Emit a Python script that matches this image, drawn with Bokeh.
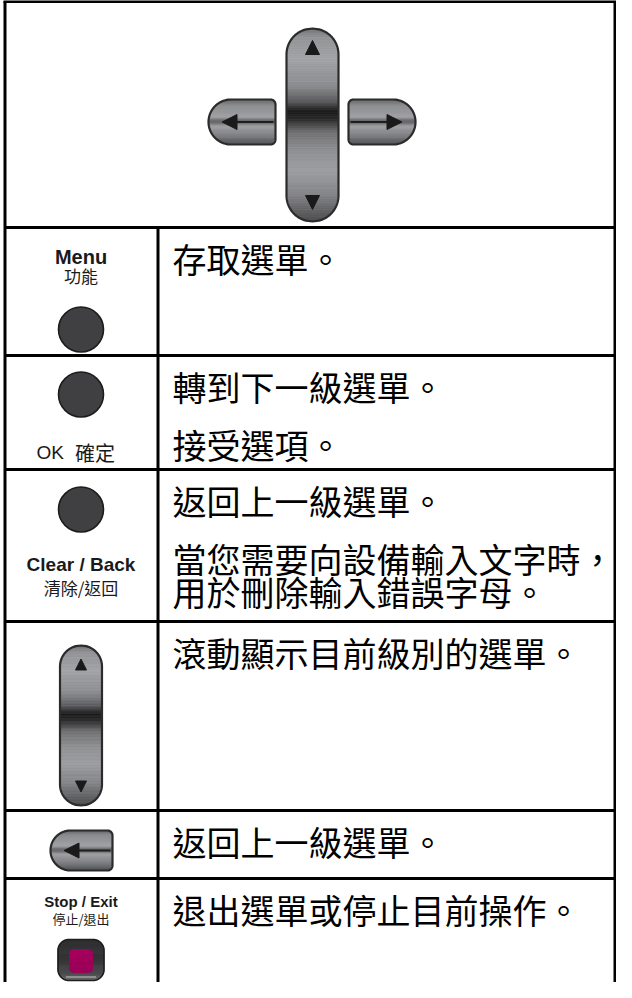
import numpy as np
from bokeh.plotting import figure
from bokeh.models import Range1d
from bokeh.core.properties import value
from bokeh.embed import file_html
from bokeh.resources import INLINE

# ---------------- data ----------------
key_names_en = ["Menu", "OK", "Clear / Back", "", "", "Stop / Exit"]
key_names_zh = ["功能", "確定", "清除/返回", "", "", "停止/退出"]
key_kinds = ["circle", "circle", "circle", "updown", "back", "stop"]
descriptions = [
    [["存取選單。"]],
    [["轉到下一級選單。"], ["接受選項。"]],
    [["返回上一級選單。"], ["當您需要向設備輸入文字時，", "用於刪除輸入錯誤字母。"]],
    [["滾動顯示目前級別的選單。"]],
    [["返回上一級選單。"]],
    [["退出選單或停止目前操作。"]],
]

# ---------------- layout / style ----------------
CJK = value("Noto Sans CJK TC")
LAT = value("Liberation Sans")
X_L, X_DIV, X_R = 12.5, 165.5, 622.5
Y_TOP, Y_BOT = 9.0, 1000
row_tops = [235, 363, 477, 629, 818, 886]
KEY_CX = 88.5
TXT_X = 180

p = figure(width=616, height=982, x_range=Range1d(8, 624), y_range=Range1d(990, 8),
           output_backend="svg", toolbar_location=None, min_border=0,
           x_axis_location=None, y_axis_location=None)
p.grid.visible = False
p.outline_line_color = None
p.background_fill_color = "white"
p.border_fill_color = "white"


def hex2rgb(h):
    h = h.lstrip("#")
    return np.array([int(h[i:i + 2], 16) for i in (0, 2, 4)], dtype=float)


def color_at(stops, t):
    t = min(max(t, 0.0), 1.0)
    for (t0, c0), (t1, c1) in zip(stops[:-1], stops[1:]):
        if t0 <= t <= t1:
            f = 0 if t1 == t0 else (t - t0) / (t1 - t0)
            c = hex2rgb(c0) * (1 - f) + hex2rgb(c1) * f
            return "#%02x%02x%02x" % tuple(int(round(v)) for v in c)
    return stops[-1][1]


def draw_gradient_shape(top, bot, extent, stops, n=100, outline="#2b2b2b", lw=2.2):
    ys = np.linspace(top, bot, n + 1)
    xs_list, ys_list, cols = [], [], []
    for y0, y1 in zip(ys[:-1], ys[1:]):
        l0, r0 = extent(y0)
        l1, r1 = extent(y1)
        xs_list.append([l0, r0, r1, l1])
        ys_list.append([y0, y0, y1, y1])
        cols.append(color_at(stops, ((y0 + y1) / 2 - top) / (bot - top)))
    p.patches(xs_list, ys_list, fill_color=cols, line_color=cols, line_width=0.8)
    if outline is not None:
        yy = np.linspace(top, bot, 241)
        ext = [extent(y) for y in yy]
        ox = [e[0] for e in ext] + [e[1] for e in ext][::-1]
        oy = list(yy) + list(yy[::-1])
        p.patch(ox, oy, fill_color=None, line_color=outline, line_width=lw, line_join="round")


def stadium(cx, w, top, bot):
    r = w / 2.0

    def ext(y):
        if y < top + r:
            d = np.sqrt(max(r * r - (top + r - y) ** 2, 0))
        elif y > bot - r:
            d = np.sqrt(max(r * r - (y - (bot - r)) ** 2, 0))
        else:
            d = r
        return cx - d, cx + d
    return ext


def dshape(left, right, top, bot, round_side="left", rc=5.0):
    R = (bot - top) / 2.0
    cy = (top + bot) / 2.0

    def ext(y):
        big = np.sqrt(max(R * R - (y - cy) ** 2, 0))
        if y < top + rc:
            small = np.sqrt(max(rc * rc - (top + rc - y) ** 2, 0))
        elif y > bot - rc:
            small = np.sqrt(max(rc * rc - (y - (bot - rc)) ** 2, 0))
        else:
            small = rc
        if round_side == "left":
            return left + R - big, right - rc + small
        return left + rc - small, right - R + big
    return ext


def rrect(left, right, top, bot, rc):
    def ext(y):
        if y < top + rc:
            d = rc - np.sqrt(max(rc * rc - (top + rc - y) ** 2, 0))
        elif y > bot - rc:
            d = rc - np.sqrt(max(rc * rc - (y - (bot - rc)) ** 2, 0))
        else:
            d = 0
        return left + d, right - d
    return ext


PILL_STOPS = [(0.0, "#6f7073"), (0.05, "#939497"), (0.16, "#a2a3a6"), (0.30, "#8b8c8f"),
              (0.38, "#5b5b5d"), (0.43, "#1b1b1c"), (0.47, "#2a2a2b"), (0.54, "#717173"),
              (0.64, "#909194"), (0.74, "#9c9da0"), (0.86, "#848588"), (1.0, "#4c4c4e")]
SIDE_STOPS = [(0.0, "#5f6062"), (0.12, "#88898c"), (0.40, "#a0a1a4"), (0.47, "#6a6a6c"),
              (0.53, "#6a6a6c"), (0.60, "#9fa0a3"), (0.82, "#7c7d80"), (1.0, "#505153")]


def triangle(cx, cy, w, h, direction):
    if direction == "up":
        return [cx - w / 2, cx + w / 2, cx], [cy + h / 2, cy + h / 2, cy - h / 2]
    if direction == "down":
        return [cx - w / 2, cx + w / 2, cx], [cy - h / 2, cy - h / 2, cy + h / 2]
    if direction == "left":
        return [cx + w / 2, cx + w / 2, cx - w / 2], [cy - h / 2, cy + h / 2, cy]
    return [cx - w / 2, cx - w / 2, cx + w / 2], [cy - h / 2, cy + h / 2, cy]


def side_button(left, right, top, bot, direction):
    cy = (top + bot) / 2.0
    draw_gradient_shape(top, bot, dshape(left, right, top, bot,
                                         "left" if direction == "left" else "right"),
                        SIDE_STOPS, n=40)
    if direction == "left":
        tx, ty = triangle(left + 21, cy, 15, 15, "left")
        p.segment(left + 28, cy, right - 2, cy, line_color="#1e1e1e", line_width=2.2)
    else:
        tx, ty = triangle(right - 21, cy, 15, 15, "right")
        p.segment(left + 2, cy, right - 28, cy, line_color="#1e1e1e", line_width=2.2)
    p.patch(tx, ty, fill_color="#1a1a1a", line_color="#1a1a1a", line_width=1)


def updown(cx, w, top, bot, tri):
    draw_gradient_shape(top, bot, stadium(cx, w, top, bot), PILL_STOPS, n=110)
    tx, ty = triangle(cx, top + 19, tri, tri, "up")
    p.patch(tx, ty, fill_color="#1a1a1a", line_color="#1a1a1a", line_width=1)
    tx, ty = triangle(cx, bot - 19, tri, tri, "down")
    p.patch(tx, ty, fill_color="#1a1a1a", line_color="#1a1a1a", line_width=1)


# ---- top D-pad row ----
updown(320, 52, 36, 229, 14)
side_button(216, 283, 107, 152, "left")
side_button(356, 423, 107, 152, "right")

# ---- table lines ----
p.segment([X_L, X_R], [Y_TOP, Y_TOP], [X_L, X_R], [Y_BOT, Y_BOT],
          line_color="black", line_width=3)
p.segment([X_L - 1.5] + [X_L] * len(row_tops), [Y_TOP] + row_tops,
          [X_R + 1.5] + [X_R] * len(row_tops), [Y_TOP] + row_tops,
          line_color="black", line_width=3)
p.segment([X_DIV], [row_tops[0]], [X_DIV], [Y_BOT], line_color="black", line_width=3)

# ---- description texts ----
tx_, ty_, tt_ = [], [], []
for top, paras in zip(row_tops, descriptions):
    for pi, para in enumerate(paras):
        for li, line in enumerate(para):
            tx_.append(TXT_X)
            ty_.append(top + 31 + pi * 58 + li * 33)
            tt_.append(line)
p.text(tx_, ty_, tt_, text_font=CJK, text_font_size="34px", text_baseline="middle",
       text_align="left", text_color="#000000")

# ---- key column ----
CIRCLE_FILL = "#404042"
LBL = "#1a1a1a"
for top, kind, en, zh in zip(row_tops, key_kinds, key_names_en, key_names_zh):
    if kind == "circle" and en == "Menu":
        p.text([KEY_CX], [top + 29], [en], text_font=LAT, text_font_style="bold",
               text_font_size="20px", text_align="center", text_baseline="middle", text_color=LBL)
        p.text([KEY_CX], [top + 48], [zh], text_font=CJK, text_font_size="17px",
               text_align="center", text_baseline="middle", text_color=LBL)
        p.circle([KEY_CX], [top + 102], radius=22.5, fill_color=CIRCLE_FILL,
                 line_color="#1c1c1c", line_width=1.6)
    elif kind == "circle" and en == "OK":
        p.circle([KEY_CX], [top + 39], radius=22.5, fill_color=CIRCLE_FILL,
                 line_color="#1c1c1c", line_width=1.6)
        p.text([KEY_CX - 17], [top + 97], [en], text_font=LAT, text_font_size="19px",
               text_align="right", text_baseline="middle", text_color=LBL)
        p.text([KEY_CX - 6], [top + 97], [zh], text_font=CJK, text_font_size="20px",
               text_align="left", text_baseline="middle", text_color=LBL)
    elif kind == "circle":
        p.circle([KEY_CX], [top + 40], radius=22.5, fill_color=CIRCLE_FILL,
                 line_color="#1c1c1c", line_width=1.6)
        p.text([KEY_CX], [top + 95], [en], text_font=LAT, text_font_style="bold",
               text_font_size="19px", text_align="center", text_baseline="middle", text_color=LBL)
        p.text([KEY_CX], [top + 118], [zh], text_font=CJK, text_font_size="17px",
               text_align="center", text_baseline="middle", text_color=LBL)
    elif kind == "updown":
        updown(KEY_CX, 42, top + 24, top + 184, 11)
    elif kind == "back":
        side_button(58, 120, top + 20, top + 60, "left")
    elif kind == "stop":
        p.text([KEY_CX], [top + 23], [en], text_font=LAT, text_font_style="bold",
               text_font_size="15px", text_align="center", text_baseline="middle", text_color=LBL)
        p.text([KEY_CX], [top + 40], [zh], text_font=CJK, text_font_size="13px",
               text_align="center", text_baseline="middle", text_color=LBL)
        btop, bbot = top + 61, top + 102
        draw_gradient_shape(btop, bbot, rrect(KEY_CX - 23, KEY_CX + 23, btop, bbot, 11),
                            [(0.0, "#2c2c2e"), (0.5, "#353537"), (0.85, "#4a4a4c"), (1.0, "#6a6a6c")],
                            n=40, outline="#1e1e1e", lw=1.6)
        draw_gradient_shape(btop + 10, btop + 33, rrect(KEY_CX - 11.5, KEY_CX + 11.5, btop + 10, btop + 33, 4),
                            [(0.0, "#a8005f"), (1.0, "#9c0058")], n=20, outline=None)
        p.segment([KEY_CX - 15], [bbot - 3.5], [KEY_CX + 15], [bbot - 3.5],
                  line_color="#8e8e90", line_width=2)

open("out.html", "w").write(file_html(p, INLINE))
